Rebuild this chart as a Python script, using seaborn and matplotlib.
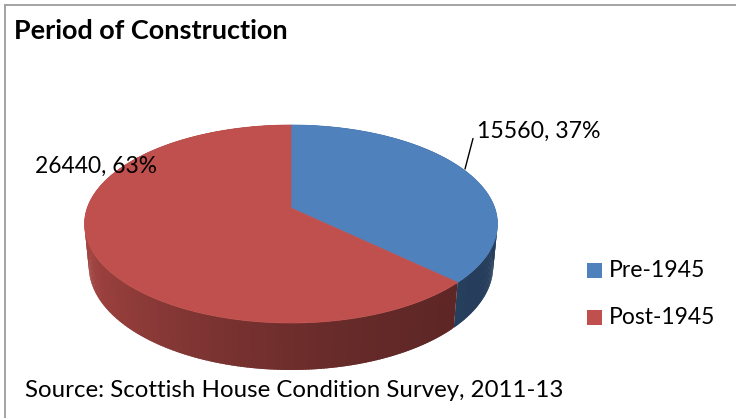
import numpy as np
import matplotlib
matplotlib.use("Agg")
import matplotlib.pyplot as plt
import seaborn as sns
from matplotlib.collections import PolyCollection
from matplotlib.patches import Polygon, Rectangle
from matplotlib.colors import to_rgb

# ---- data ---------------------------------------------------------------
categories = ["Pre-1945", "Post-1945"]
dwellings = [15560, 26440]
slice_colors = ["#4F81BD", "#C0504D"]
title_text = "Period of Construction"
source_text = "Source: Scottish House Condition Survey, 2011-13"

# ---- style --------------------------------------------------------------
sns.set_theme(style="white")
palette = sns.color_palette(slice_colors)
plt.rcParams["font.family"] = ["Lato", "DejaVu Sans"]

W, H = 736, 418
fig = plt.figure(figsize=(W / 100, H / 100), dpi=100)
ax = fig.add_axes([0, 0, 1, 1])
ax.set_xlim(0, W)
ax.set_ylim(H, 0)
ax.axis("off")

# ---- perspective disc ---------------------------------------------------
cx, cy = 291.0, 208.0          # screen position of the disc centre
tilt = np.radians(28.24)       # viewing elevation
dist = 5.452                   # camera distance (disc radius = 1)
focal = 1111.0
depth = 0.238                  # disc thickness
sa, ca = np.sin(tilt), np.cos(tilt)


def project(phi, z_up):
    X, Z = np.cos(phi), np.sin(phi)
    v = Z * sa + z_up * ca
    w = dist + Z * ca - z_up * sa
    return cx + focal * X / w, cy - focal * v / w


total = float(sum(dwellings))
fracs = [d / total for d in dwellings]
starts, ends = [], []
a = np.pi / 2
for fr in fracs:
    starts.append(a)
    a -= 2 * np.pi * fr
    ends.append(a)


def side_factor(phi):
    g = ((1 + np.cos(phi - np.pi)) / 2) ** 2
    return 0.48 + 0.37 * g


# side wall: thin overlapping strips so no seams show between them
step = np.radians(0.75)
polys, cols = [], []
for s, e, col in zip(starts, ends, palette):
    base = np.array(to_rgb(col))
    n = max(int(abs(s - e) / step), 2)
    phis = np.linspace(s, e, n + 1)
    for i, (p0, p1) in enumerate(zip(phis[:-1], phis[1:])):
        p1x = p1 - step * 0.8 if i < n - 1 else p1
        arc = np.linspace(p0, p1x, 4)
        xt, yt = project(arc, 0)
        xb, yb = project(arc[::-1], -depth)
        polys.append(list(zip(xt, yt)) + list(zip(xb, yb)))
        cols.append(np.clip(base * side_factor((p0 + p1) / 2), 0, 1))
ax.add_collection(PolyCollection(polys, facecolors=cols, edgecolors="none",
                                 linewidths=0, zorder=1))

# top faces
for s, e, col in zip(starts, ends, palette):
    phis = np.linspace(s, e, 300)
    xs, ys = project(phis, 0)
    pts = [(cx, cy)] + list(zip(xs, ys))
    ax.add_patch(Polygon(pts, closed=True, facecolor=col, edgecolor=col,
                         linewidth=0.5, zorder=2))


# ---- text helpers -------------------------------------------------------
renderer = fig.canvas.get_renderer()


def fitted_text(x, y, s, width, size=16, **kw):
    t = ax.text(x, y, s, fontsize=size, va="baseline", ha="left", **kw)
    bb = t.get_window_extent(renderer)
    t.set_fontsize(size * width / bb.width)
    return t


# data labels
labels = [f"{d}, {round(100 * f)}%" for d, f in zip(dwellings, fracs)]
fitted_text(477, 138, labels[0], 124, color="black", zorder=5)
fitted_text(35, 173, labels[1], 122, color="black", zorder=5)
ax.plot([465, 473], [169, 138.5], color="black", lw=1.0, zorder=4)

# legend
legend_rows = [270.0, 317.5]
legend_widths = [96, 106]
for cat, col, yc, wd in zip(categories, palette, legend_rows, legend_widths):
    ax.add_patch(Rectangle((587, yc - 7.5), 15, 15, facecolor=col,
                           edgecolor="none", zorder=3))
    fitted_text(609, yc + 7, cat, wd, color="black")

# title and source
fitted_text(14, 39, title_text, 275, fontweight="bold", color="black")
fitted_text(25, 397, source_text, 537, color="black")

# chart border
ax.plot([4.5, 4.5], [H + 2, 4.5], color="#a3a3a3", lw=1.4,
        solid_capstyle="projecting", zorder=6)
ax.plot([4.5, W + 2], [4.5, 4.5], color="#a3a3a3", lw=1.4,
        solid_capstyle="projecting", zorder=6)

fig.savefig("out.png", dpi=100)
